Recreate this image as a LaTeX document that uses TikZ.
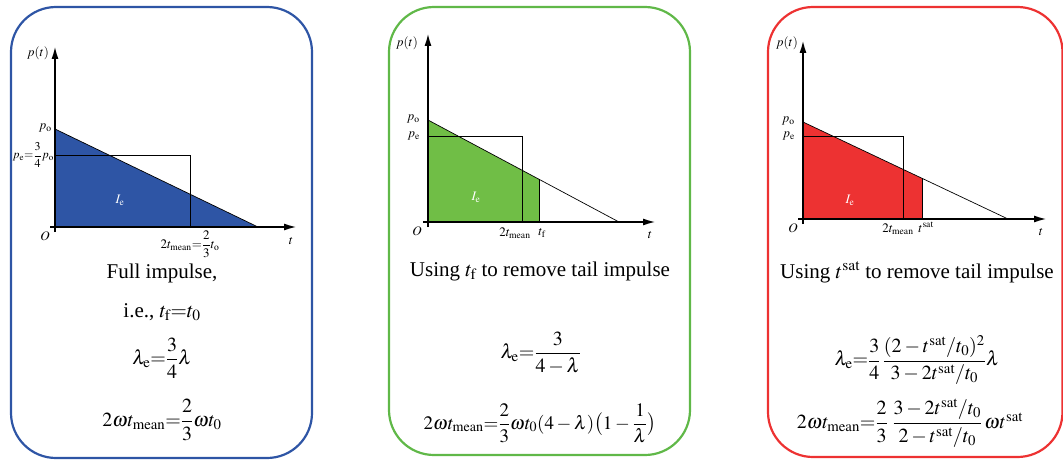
\documentclass[tikz,border=0pt]{standalone}
\usepackage{amsmath}
\usepackage{mathptmx}
\usepackage{fontspec}
\setmainfont{Liberation Serif}
\usetikzlibrary{arrows.meta}
\definecolor{impblue}{RGB}{46,85,165}
\definecolor{impgreen}{RGB}{112,190,70}
\definecolor{impgreenline}{RGB}{96,184,72}
\definecolor{impred}{RGB}{237,50,50}

\begin{document}
\begin{tikzpicture}[x=1pt,y=-1pt,
  panel/.style={line width=2.2pt,rounded corners=45pt},
  axis/.style={line width=2pt,-{Latex[length=13pt,width=7pt]}},
  hyp/.style={line width=0.7pt},
  lbl/.style={font=\fontsize{13}{15}\selectfont,inner sep=1pt},
  txt/.style={font=\fontsize{21}{24}\selectfont,inner sep=0pt},
  eqn/.style={font=\fontsize{20}{24}\selectfont,inner sep=0pt}]
  \useasboundingbox (0,0) rectangle (1063,460);

  % full impulse
  \draw[panel,impblue] (11,7) rectangle (312,458);
  \coordinate (O1) at (55,227);
  \coordinate (ytop1) at (55,46);
  \coordinate (xend1) at (297,227);
  \coordinate (po1) at (55,129);
  \coordinate (t01) at (258,227);
  \fill[impblue] (O1) -- (po1) -- (t01) -- cycle;
  \draw[hyp] (po1) -- (t01);
  \draw[hyp] (55,155) -| (190,227);
  \draw[axis] (55,232) -- (ytop1);
  \draw[axis] (50,227) -- (xend1);
  \node[lbl] (pt1) at (38,53) {$p(t)$};
  \node[lbl,anchor=east] (po1l) at (53,128) {$p_\mathrm{o}$};
  \node[lbl,anchor=east,font=\fontsize{12}{14}\selectfont] (pe1l) at (55,155) {$p_\mathrm{e}{=}\dfrac{3}{4}p_\mathrm{o}$};
  \node[lbl] (O1l) at (45,236) {$O$};
  \node[lbl] (t1l) at (291,241) {$t$};
  \node[lbl] (tm1) at (190,244) {$2t_\mathrm{mean}{=}\dfrac{2}{3}t_\mathrm{o}$};
  \node[lbl,white] (Ie1) at (120,200) {$I_\mathrm{e}$};
  \node[txt] (cap1) at (162,273) {Full impulse,};
  \node[txt] (ie1) at (162,312) {i.e., $t_\mathrm{f}{=}t_0$};
  \node[eqn] (lam1) at (162,358) {$\lambda_\mathrm{e}{=}\dfrac{3}{4}\lambda$};
  \node[eqn] (om1) at (162,420) {$2\omega t_\mathrm{mean}{=}\dfrac{2}{3}\omega t_0$};

  % tail cut at t_f
  \draw[panel,impgreenline] (389,7) rectangle (690,455);
  \coordinate (O2) at (428,222);
  \coordinate (ytop2) at (428,33);
  \coordinate (xend2) at (656,222);
  \coordinate (po2) at (428,120);
  \coordinate (t02) at (619,222);
  \coordinate (tf2) at (539,222);
  \coordinate (tf2top) at (539,179.3);
  \fill[impgreen] (O2) -- (po2) -- (tf2top) -- (tf2) -- cycle;
  \draw[hyp] (po2) -- (t02);
  \draw[hyp] (428,136) -| (522,222);
  \draw[hyp] (tf2top) -- (tf2);
  \draw[axis] (428,227) -- (ytop2);
  \draw[axis] (423,222) -- (xend2);
  \node[lbl] (pt2) at (407,43) {$p(t)$};
  \node[lbl,anchor=east] (po2l) at (421,119) {$p_\mathrm{o}$};
  \node[lbl,anchor=east] (pe2l) at (421,136) {$p_\mathrm{e}$};
  \node[lbl] (O2l) at (417,231) {$O$};
  \node[lbl] (t2l) at (650,235) {$t$};
  \node[lbl] (tm2) at (515,233) {$2t_\mathrm{mean}$};
  \node[lbl] (tf2l) at (542,233) {$t_\mathrm{f}$};
  \node[lbl,white] (Ie2) at (476,197) {$I_\mathrm{e}$};
  \node[txt] (cap2) at (540,271) {Using $t_\mathrm{f}$ to remove tail impulse};
  \node[eqn] (lam2) at (541,353) {$\lambda_\mathrm{e}{=}\dfrac{3}{4-\lambda}$};
  \node[eqn,font=\fontsize{19}{22}\selectfont] (om2) at (540,423) {$2\omega t_\mathrm{mean}{=}\dfrac{2}{3}\omega t_0(4-\lambda)\bigl(1-\dfrac{1}{\lambda}\bigr)$};

  % tail cut at t^sat
  \draw[panel,impred] (768,7) rectangle (1062.5,457);
  \coordinate (O3) at (803,219);
  \coordinate (ytop3) at (803,40);
  \coordinate (xend3) at (1047,219);
  \coordinate (po3) at (803,122);
  \coordinate (t03) at (1008,219);
  \coordinate (ts3) at (922,219);
  \coordinate (ts3top) at (922,178.3);
  \fill[impred] (O3) -- (po3) -- (ts3top) -- (ts3) -- cycle;
  \draw[hyp] (po3) -- (t03);
  \draw[hyp] (803,136) -| (903,219);
  \draw[hyp] (ts3top) -- (ts3);
  \draw[axis] (803,224) -- (ytop3);
  \draw[axis] (798,219) -- (xend3);
  \node[lbl] (pt3) at (787,43) {$p(t)$};
  \node[lbl,anchor=east] (po3l) at (796,121) {$p_\mathrm{o}$};
  \node[lbl,anchor=east] (pe3l) at (796,136) {$p_\mathrm{e}$};
  \node[lbl] (O3l) at (793,228) {$O$};
  \node[lbl] (t3l) at (1041,232) {$t$};
  \node[lbl] (tm3) at (898,229) {$2t_\mathrm{mean}$};
  \node[lbl] (ts3l) at (926,227) {$t^\mathrm{sat}$};
  \node[lbl,white] (Ie3) at (850,200) {$I_\mathrm{e}$};
  \node[txt] (cap3) at (917,272) {Using $t^\mathrm{sat}$ to remove tail impulse};
  \node[eqn] (lam3) at (917,360) {$\lambda_\mathrm{e}{=}\dfrac{3}{4}\,\dfrac{(2-t^\mathrm{sat}/t_0)^2}{3-2t^\mathrm{sat}/t_0}\lambda$};
  \node[eqn] (om3) at (910,423) {$2\omega t_\mathrm{mean}{=}\dfrac{2}{3}\;\dfrac{3-2t^\mathrm{sat}/t_0}{2-t^\mathrm{sat}/t_0}\,\omega t^\mathrm{sat}$};
\end{tikzpicture}
\end{document}
